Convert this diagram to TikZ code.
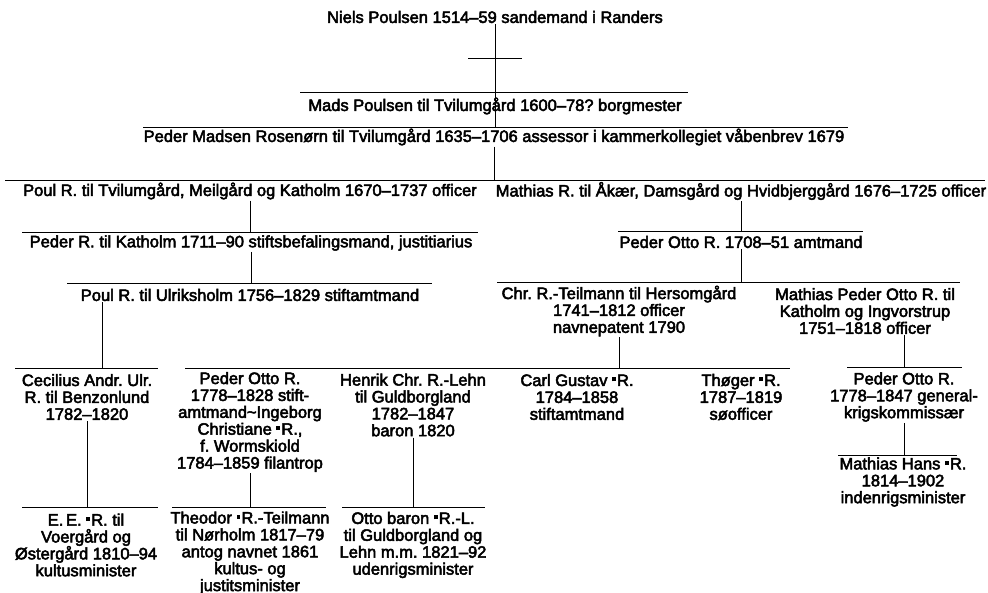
\documentclass[tikz,border=0pt]{standalone}
\usepackage{fontspec}
\setmainfont{Liberation Sans}[BoldFont={Liberation Sans}, BoldFeatures={FakeBold=3}]
\usepackage{tikz}
\usetikzlibrary{positioning, calc}

\newcommand{\refmark}{\raisebox{0.52ex}{\rule{0.24em}{0.25em}}\kern0.06em}

\begin{document}
\begin{tikzpicture}[
    x=1pt, y=-1pt,
    person/.style={align=center, inner sep=1pt, font=\fontsize{16.5}{16.9}\selectfont\bfseries\frenchspacing},
    bar/.style={line width=1pt},
    link/.style={line width=1pt}
]
\useasboundingbox (0,0) rectangle (988,593);

% Generation 1
\node[person] (niels) at (495,17) {Niels Poulsen 1514--59 sandemand i Randers};

% Generation 2
\node[person] (mads) at (495,106) {Mads Poulsen til Tvilumgård 1600--78? borgmester};
\node[person] (peder) at (494,137) {Peder Madsen Rosenørn til Tvilumgård 1635--1706 assessor i kammerkollegiet våbenbrev 1679};

% Generation 3
\node[person] (poul) at (250,191) {Poul R. til Tvilumgård, Meilgård og Katholm 1670--1737 officer};
\node[person] (mathias) at (741,191) {Mathias R. til Åkær, Damsgård og Hvidbjerggård 1676--1725 officer};

% Generation 4
\node[person] (pederR) at (251,243) {Peder R. til Katholm 1711--90 stiftsbefalingsmand, justitiarius};
\node[person] (pederOtto) at (741,242) {Peder Otto R. 1708--51 amtmand};

% Generation 5
\node[person] (poulU) at (250,295) {Poul R. til Ulriksholm 1756--1829 stiftamtmand};
\node[person] (chr) at (619,311) {Chr. R.-Teilmann til Hersomgård\\1741--1812 officer\\navnepatent 1790};
\node[person] (mathiasPO) at (865,311) {Mathias Peder Otto R. til\\Katholm og Ingvorstrup\\1751--1818 officer};

% Generation 6
\node[person] (cecilius) at (87,397) {Cecilius Andr. Ulr.\\R. til Benzonlund\\1782--1820};
\node[person] (pederOttoS) at (250,422) {Peder Otto R.\\1778--1828 stift-\\amtmand\textasciitilde Ingeborg\\Christiane \refmark R.,\\f. Wormskiold\\1784--1859 filantrop};
\node[person] (henrik) at (413,405) {Henrik Chr. R.-Lehn\\til Guldborgland\\1782--1847\\baron 1820};
\node[person] (carl) at (577,397) {Carl Gustav \refmark R.\\1784--1858\\stiftamtmand};
\node[person] (thoger) at (741,397) {Thøger \refmark R.\\1787--1819\\søofficer};
\node[person] (pederOttoG) at (904,397) {Peder Otto R.\\1778--1847 general-\\krigskommissær};

% Generation 7
\node[person] (ee) at (86,545) {E.\,E. \refmark R. til\\Voergård og\\Østergård 1810--94\\kultusminister};
\node[person] (theodor) at (250,553) {Theodor \refmark R.-Teilmann\\til Nørholm 1817--79\\antog navnet 1861\\kultus- og\\justitsminister};
\node[person] (otto) at (413,545) {Otto baron \refmark R.-L.\\til Guldborgland og\\Lehn m.m. 1821--92\\udenrigsminister};
\node[person] (mathiasH) at (903,482) {Mathias Hans \refmark R.\\1814--1902\\indenrigsminister};

% Sibling bars
\coordinate (cross-l) at (468,59);   \coordinate (cross-r) at (522,59);
\coordinate (mads-l) at (300,93);    \coordinate (mads-r) at (688,93);
\coordinate (peder-l) at (143,128);  \coordinate (peder-r) at (848,128);
\coordinate (gen3-l) at (5,181);     \coordinate (gen3-r) at (985,181);
\coordinate (pederR-l) at (22,233);  \coordinate (pederR-r) at (478,233);
\coordinate (pederOtto-l) at (618,232); \coordinate (pederOtto-r) at (863,232);
\coordinate (poulU-l) at (67,284);   \coordinate (poulU-r) at (432,284);
\coordinate (chrm-l) at (497,283);   \coordinate (chrm-r) at (960,283);
\coordinate (cec-l) at (15,369);     \coordinate (cec-r) at (158,369);
\coordinate (kids-l) at (185,369);   \coordinate (kids-r) at (790,369);
\coordinate (po3-l) at (847,368);    \coordinate (po3-r) at (962,368);
\coordinate (mh-l) at (838,455);     \coordinate (mh-r) at (957,455);
\coordinate (ee-l) at (22,507);      \coordinate (ee-r) at (158,507);
\coordinate (theo-l) at (172,507);   \coordinate (theo-r) at (326,507);
\coordinate (otto-l) at (342,507);   \coordinate (otto-r) at (485,507);
\coordinate (cec-j) at (102,369);

\foreach \b in {cross, mads, peder, gen3, pederR, pederOtto, poulU, chrm, cec, kids, po3, mh, ee, theo, otto}
    \draw[bar] (\b-l) -- (\b-r);

% Descent lines
\draw[link] (niels.south) -- (niels.south |- peder-l);
\draw[link] (peder.south) -- (peder.south |- gen3-l);
\draw[link] (poul.south) -- (poul.south |- pederR-l);
\draw[link] (pederR.south) -- (pederR.south |- poulU-l);
\draw[link] (poulU.south -| cec-j) -- (cec-j);
\draw[link] (mathias.south) -- (mathias.south |- pederOtto-l);
\draw[link] (pederOtto.south) -- (pederOtto.south |- chrm-l);
\draw[link] (chr.south) -- (chr.south |- kids-l);
\draw[link] (mathiasPO.south -| pederOttoG.north) -- (pederOttoG.north |- po3-l);
\draw[link] (cecilius.south) -- (cecilius.south |- ee-l);
\draw[link] (pederOttoS.south) -- (pederOttoS.south |- theo-l);
\draw[link] (henrik.south) -- (henrik.south |- otto-l);
\draw[link] (pederOttoG.south) -- (pederOttoG.south |- mh-l);

\end{tikzpicture}
\end{document}
